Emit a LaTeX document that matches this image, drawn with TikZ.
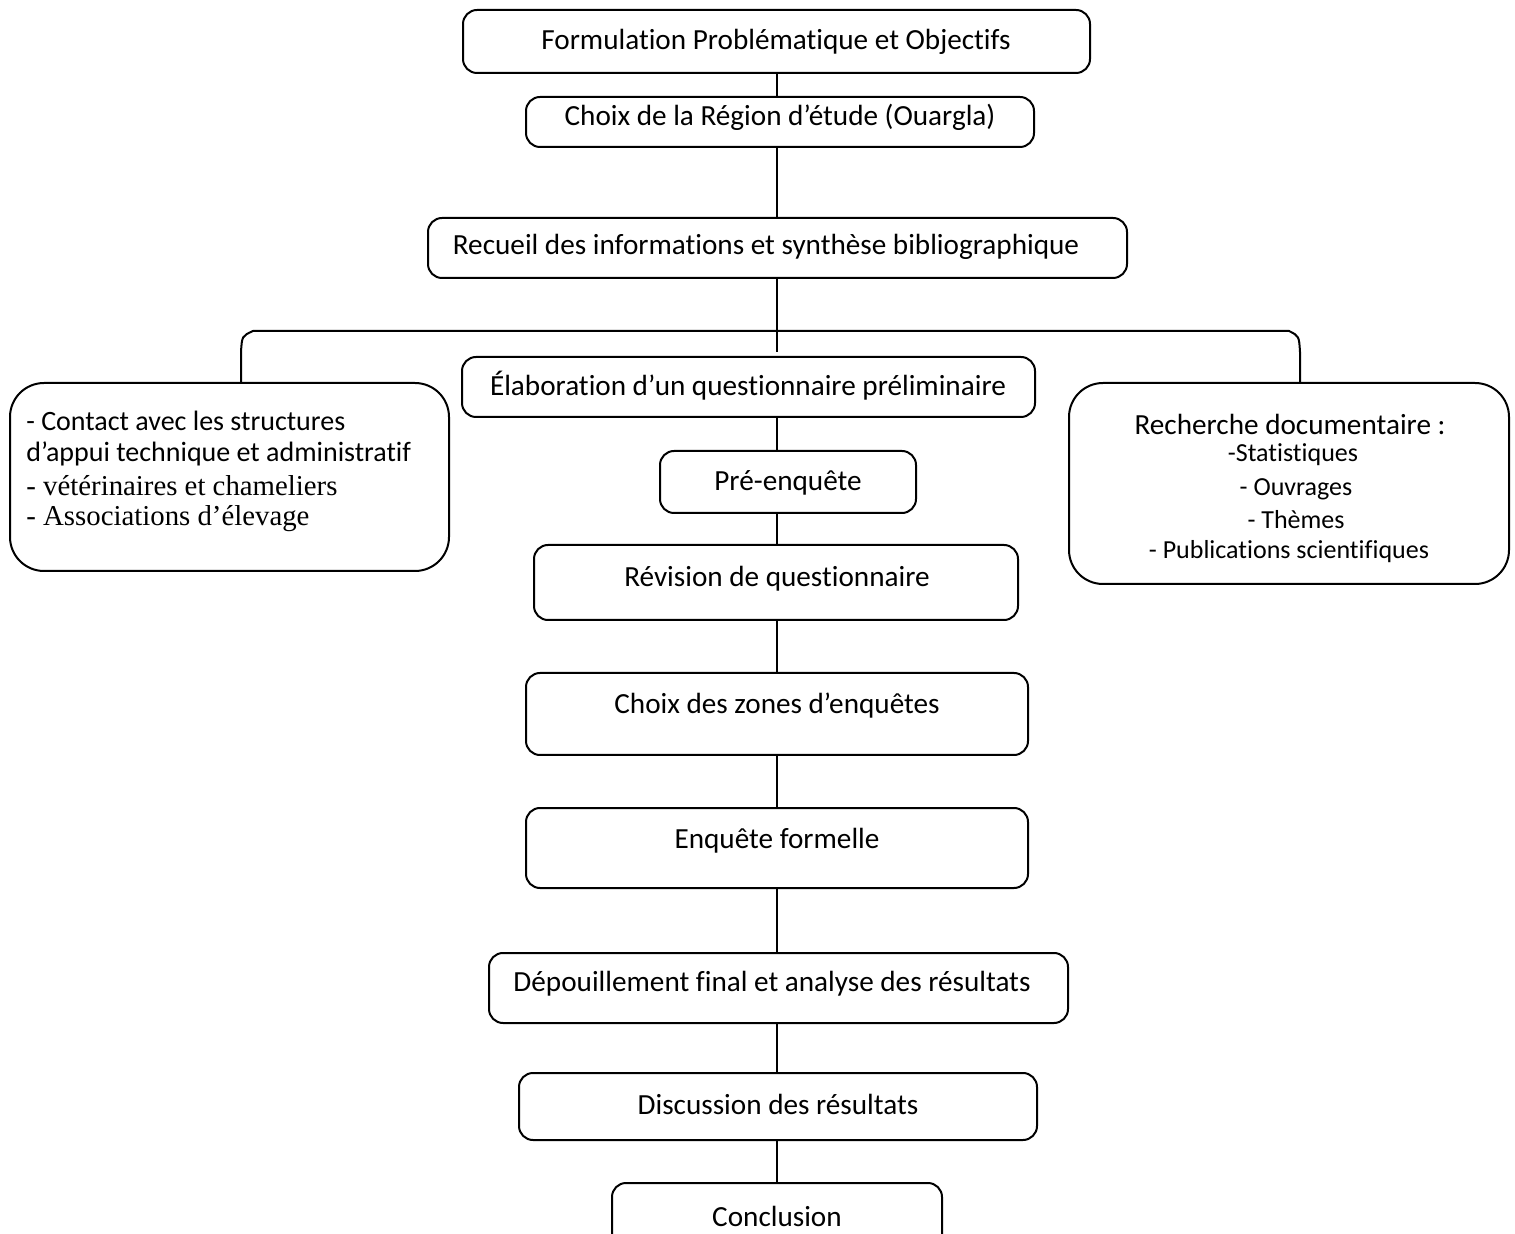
\documentclass[tikz,border=0pt]{standalone}
\usepackage{fontspec}
\setmainfont[Ligatures=NoCommon]{Carlito}
\newfontfamily\timesf{Liberation Serif}
\begin{document}
\begin{tikzpicture}[x=0.5pt,y=-0.5pt,
  box/.style={draw, line width=1pt, rounded corners=7pt},
  bigbox/.style={draw, line width=1pt, rounded corners=17pt},
  txt/.style={font=\fontsize{14.6}{17}\selectfont, inner sep=0pt},
  ltxt/.style={font=\fontsize{14}{17}\selectfont, inner sep=0pt, anchor=west},
  ttxt/.style={font=\timesf\fontsize{14.4}{17}\selectfont, inner sep=0pt, anchor=west},
  stxt/.style={font=\fontsize{13}{15}\selectfont, inner sep=0pt},
  conn/.style={draw, line width=0.8pt}]
\clip (0,0) rectangle (1515,1234);
\path[use as bounding box] (0,0) rectangle (1515,1234);
% boxes
\draw[box] (463,10) rectangle (1090,73);
\coordinate (b1t) at (777,10); \coordinate (b1b) at (777,73);
\node[txt] (t1) at (776,42) {Formulation Problématique et Objectifs};
\draw[box] (526,97) rectangle (1034,147);
\coordinate (b2t) at (777,97); \coordinate (b2b) at (777,147);
\node[txt] (t2) at (780,117) {Choix de la Région d’étude (Ouargla)};
\draw[box] (428,218) rectangle (1127,278);
\coordinate (b3t) at (777,218); \coordinate (b3b) at (777,278);
\node[txt] (t3) at (766,247) {Recueil des informations et synthèse bibliographique};
\draw[box] (462,357) rectangle (1035,417);
\coordinate (b4t) at (777,352); \coordinate (b4b) at (777,417);
\node[txt] (t4) at (748,386) {Élaboration d’un questionnaire préliminaire};
\draw[box] (660,451) rectangle (916,513);
\coordinate (b5t) at (777,451); \coordinate (b5b) at (777,513);
\node[txt] (t5) at (788,483) {Pré-enquête};
\draw[box] (534,545) rectangle (1018,620);
\coordinate (b6t) at (777,545); \coordinate (b6b) at (777,620);
\node[txt] (t6) at (777,579) {Révision de questionnaire};
\draw[box] (526,673) rectangle (1028,755);
\coordinate (b7t) at (777,673); \coordinate (b7b) at (777,755);
\node[txt] (t7) at (777,706) {Choix des zones d’enquêtes};
\draw[box] (526,808) rectangle (1028,888);
\coordinate (b8t) at (777,808); \coordinate (b8b) at (777,888);
\node[txt] (t8) at (777,841) {Enquête formelle};
\draw[box] (489,953) rectangle (1068,1023);
\coordinate (b9t) at (777,953); \coordinate (b9b) at (777,1023);
\node[txt] (t9) at (772,984) {Dépouillement final et analyse des résultats};
\draw[box] (519,1073) rectangle (1037,1140);
\coordinate (b10t) at (777,1073); \coordinate (b10b) at (777,1140);
\node[txt] (t10) at (778,1104) {Discussion des résultats};
\draw[box] (612,1183) rectangle (942,1260);
\coordinate (b11t) at (777,1183);
\node[txt] (t11) at (777,1216) {Conclusion};
% side boxes
\draw[bigbox] (10,383) rectangle (449,571);
\coordinate (lt) at (241,383);
\node[ltxt] (l1) at (26,421) {- Contact avec les structures};
\node[ltxt] (l2) at (26,454) {d’appui technique et administratif};
\node[ttxt] (l3) at (26,486) {- vétérinaires et chameliers};
\node[ttxt] (l4) at (26,519) {- Associations d’élevage};
\draw[bigbox] (1069,383) rectangle (1509,584);
\coordinate (rt) at (1300,383);
\node[txt] (r1) at (1290,424) {Recherche documentaire :};
\node[stxt] (r2) at (1293,455) {-Statistiques};
\node[stxt] (r3) at (1296,489) {- Ouvrages};
\node[stxt] (r4) at (1296,520) {- Thèmes};
\node[stxt] (r5) at (1289,552) {- Publications scientifiques};
% connectors
\draw[conn] (b1b) -- (b2t);
\draw[conn] (b2b) -- (b3t);
\draw[conn] (b3b) -- (b4t);
\draw[conn] (b4b) -- (b5t);
\draw[conn] (b5b) -- (b6t);
\draw[conn] (b6b) -- (b7t);
\draw[conn] (b7b) -- (b8t);
\draw[conn] (b8b) -- (b9t);
\draw[conn] (b9b) -- (b10t);
\draw[conn] (b10b) -- (b11t);
\coordinate (bl) at (253,331);
\coordinate (br) at (1289,331);
\draw[conn, line width=1pt] (lt) -- (241,352) .. controls (242,336) .. (bl) -- (br) .. controls (1299,336) .. (1300,352) -- (rt);
\end{tikzpicture}
\end{document}
